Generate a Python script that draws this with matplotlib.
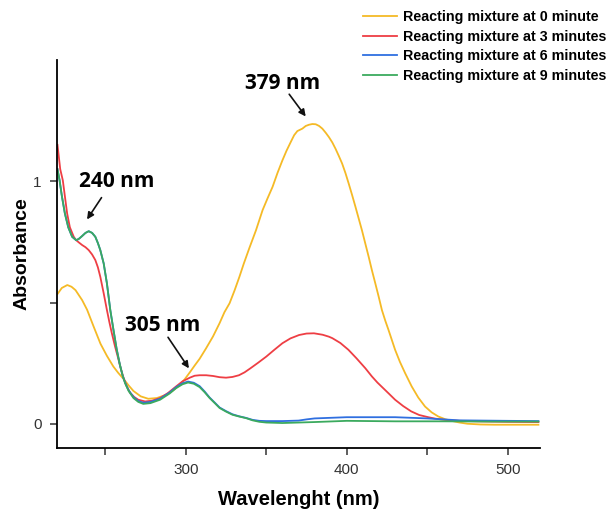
import matplotlib
matplotlib.use("Agg")
import matplotlib.pyplot as plt

# ---- data ----
wl_0 = [220.3, 223, 226.4, 229, 231.5, 235.6, 238.7, 242.8, 247, 251, 255, 258, 261.3, 264.5, 267.5,
        272, 276.7, 282, 288, 292, 296.3, 299.5, 302.5, 305.5, 308.6, 312.5, 316.9, 321, 324, 327.2,
        330.3, 333.3, 336, 339.5, 343.6, 347.7, 350.8, 353.9, 357, 360, 362.5, 365.2, 367.3, 369.3,
        372.4, 374.5, 376.5, 378.6, 380.7, 382.8, 384.8, 386.9, 388.9, 391, 393, 395, 397.1, 399.2,
        401.2, 403.3, 405.4, 407.4, 409.4, 411.5, 413.6, 415.6, 417.7, 419.8, 421.8, 423.9, 425.9,
        428, 430, 433, 436.2, 440.3, 444.4, 448.6, 452.7, 456.8, 461, 465, 470, 475, 483, 491.8, 505, 519]
abs_0 = [0.535, 0.56, 0.572, 0.565, 0.551, 0.51, 0.47, 0.40, 0.33, 0.28, 0.236, 0.21, 0.185, 0.158, 0.135,
         0.113, 0.103, 0.106, 0.12, 0.137, 0.16, 0.185, 0.212, 0.24, 0.268, 0.31, 0.36, 0.415, 0.46, 0.497,
         0.55, 0.606, 0.66, 0.725, 0.798, 0.881, 0.93, 0.977, 1.035, 1.086, 1.125, 1.162, 1.19, 1.207,
         1.217, 1.228, 1.233, 1.236, 1.235, 1.228, 1.217, 1.2, 1.182, 1.16, 1.134, 1.105, 1.073, 1.033,
         0.99, 0.943, 0.894, 0.846, 0.798, 0.743, 0.688, 0.633, 0.579, 0.524, 0.469, 0.425, 0.387,
         0.345, 0.305, 0.255, 0.209, 0.154, 0.108, 0.071, 0.047, 0.03, 0.019, 0.012, 0.005, 0.0, -0.003, -0.004, -0.004, -0.004]

wl_3 = [220.3, 222, 223.6, 226.3, 228, 230.4, 231.9, 233.5, 235.6, 237.7, 239.7, 241.8, 243.8, 245.4,
        246.9, 249, 251, 252.5, 254, 256, 258, 259.6, 261.3, 263.3, 265.4, 268, 270.5, 274.7, 279, 284,
        289, 294, 298, 302.5, 305.5, 308.6, 312.7, 316.9, 321, 325, 329, 333, 336.5, 340, 345, 350, 355,
        360, 365, 370.4, 375, 379.6, 385, 388.9, 391, 396, 401, 406, 411.5, 415.6, 419, 421.8, 426, 430,
        435, 440, 445, 450.6, 455, 461, 470, 481.5, 500, 519]
abs_3 = [1.15, 1.05, 1.004, 0.867, 0.81, 0.771, 0.757, 0.748, 0.737, 0.728, 0.716, 0.698, 0.675, 0.645,
         0.606, 0.538, 0.469, 0.42, 0.375, 0.32, 0.27, 0.228, 0.19, 0.155, 0.128, 0.11, 0.099, 0.092, 0.095, 0.106,
         0.127, 0.154, 0.175, 0.19, 0.198, 0.2, 0.2, 0.197, 0.192, 0.19, 0.193, 0.2, 0.212, 0.228, 0.252, 0.277, 0.305,
         0.332, 0.352, 0.366, 0.372, 0.373, 0.367, 0.359, 0.353, 0.333, 0.305, 0.27, 0.229, 0.195, 0.17, 0.152, 0.125, 0.099,
         0.073, 0.051, 0.036, 0.027, 0.021, 0.016, 0.012, 0.01, 0.008, 0.007]

wl_6 = [220.3, 221.6, 223, 224.9, 227, 229.4, 231.9, 233.5, 235.6, 237.7, 239.7, 241.8, 243.8, 245.4,
        246.9, 249, 251, 253.1, 255, 257, 259, 260.7, 262.3, 264.5, 267.5, 270.5, 273.6, 278, 284, 290,
        294, 298, 301.4, 305, 308.6, 311.7, 314.8, 318, 321, 325, 329, 333, 337.5, 341.5, 345.7, 350,
        360, 370, 375, 380, 400, 430, 450, 470, 500, 519]
abs_6 = [1.05, 1.004, 0.94, 0.867, 0.81, 0.771, 0.757, 0.762, 0.774, 0.787, 0.794, 0.787, 0.771, 0.745,
         0.716, 0.661, 0.579, 0.469, 0.39, 0.31, 0.245, 0.2, 0.169, 0.138, 0.11, 0.094, 0.087, 0.09, 0.103, 0.129,
         0.151, 0.167, 0.174, 0.169, 0.155, 0.133, 0.108, 0.087, 0.067, 0.052, 0.039, 0.031, 0.024, 0.016, 0.012, 0.011,
         0.011, 0.013, 0.018, 0.022, 0.027, 0.027, 0.022, 0.014, 0.012, 0.011]

wl_9 = [220.3, 221.6, 223, 224.9, 227, 229.4, 231.9, 233.5, 235.6, 237.7, 239.7, 241.8, 243.8, 245.4,
        246.9, 249, 251, 253.1, 255, 257, 259, 260.7, 262.3, 264.5, 267.5, 270.5, 273.6, 278, 284, 290,
        294, 298, 301.4, 305, 308.6, 311.7, 314.8, 318, 321, 325, 329, 333, 337.5, 341.5, 345.7, 350,
        360, 370, 380, 400, 430, 460, 490, 519]
abs_9 = [1.05, 1.004, 0.94, 0.867, 0.81, 0.771, 0.757, 0.762, 0.774, 0.787, 0.794, 0.787, 0.771, 0.745,
         0.716, 0.661, 0.579, 0.469, 0.39, 0.31, 0.245, 0.2, 0.167, 0.135, 0.106, 0.09, 0.082, 0.085, 0.099, 0.125,
         0.147, 0.163, 0.17, 0.165, 0.151, 0.13, 0.106, 0.085, 0.065, 0.05, 0.037, 0.03, 0.023, 0.014, 0.008, 0.005,
         0.003, 0.005, 0.007, 0.012, 0.01, 0.01, 0.009, 0.009]

labels = ["Reacting mixture at 0 minute", "Reacting mixture at 3 minutes",
          "Reacting mixture at 6 minutes", "Reacting mixture at 9 minutes"]
colors = ["#F5BA26", "#EE3E44", "#2F6FE0", "#3BAA5E"]

x_ticks = [250, 300, 350, 400, 450, 500]
x_ticklabels = ["", "300", "", "400", "", "500"]
y_ticks = [0, 0.5, 1]
y_ticklabels = ["0", "", "1"]

peaks = [("379 nm", (359.9, 1.405), (363.2, 1.368), (375.5, 1.258)),
         ("240 nm", (256.8, 0.998), (248.6, 0.942), (237.7, 0.833)),
         ("305 nm", (285.8, 0.407), (288.0, 0.366), (302.9, 0.219))]

# ---- figure ----
plt.rcParams['font.family'] = ['Liberation Sans', 'DejaVu Sans']
fig = plt.figure(figsize=(6.09, 5.11), dpi=100)
ax = fig.add_axes([57 / 609, 1 - 448 / 511, (540 - 57) / 609, (448 - 60) / 511])

series = [(wl_0, abs_0), (wl_3, abs_3), (wl_6, abs_6), (wl_9, abs_9)]
handles = []
for (w, a), c, lab in zip(series, colors, labels):
    h, = ax.plot(w, a, color=c, lw=1.3, label=lab)
    handles.append(h)

ax.set_xlim(220, 520)
ax.set_ylim(-0.1, 1.5)
for s in ["top", "right"]:
    ax.spines[s].set_visible(False)
for s in ["left", "bottom"]:
    ax.spines[s].set_linewidth(1.3)
ax.set_xticks(x_ticks)
ax.set_xticklabels(x_ticklabels)
ax.set_yticks(y_ticks)
ax.set_yticklabels(y_ticklabels)
ax.tick_params(direction="out", length=5, width=1.1, labelsize=11, colors="#333333", pad=6)

ax.set_xlabel("Wavelenght (nm)", fontsize=14.5, fontweight="bold", labelpad=9)
ax.set_ylabel("Absorbance", fontsize=14, fontweight="bold", labelpad=2)

for txt, tpos, tail, head in peaks:
    ax.text(tpos[0], tpos[1], txt, fontsize=15, fontweight="bold", ha="center", va="center",
            family=["Open Sans", "DejaVu Sans"])
    ax.annotate("", xy=head, xytext=tail,
                arrowprops=dict(arrowstyle="-|>", color="#111111", lw=1.2, mutation_scale=10))

leg = fig.legend(handles=handles, loc="upper right", bbox_to_anchor=(1.0 + 10 / 609, 1.0 + 3 / 511),
                 frameon=False, prop={"weight": "bold", "size": 10.3},
                 handlelength=2.4, handletextpad=0.4, labelspacing=0.4)

fig.savefig("out.png", dpi=100)
